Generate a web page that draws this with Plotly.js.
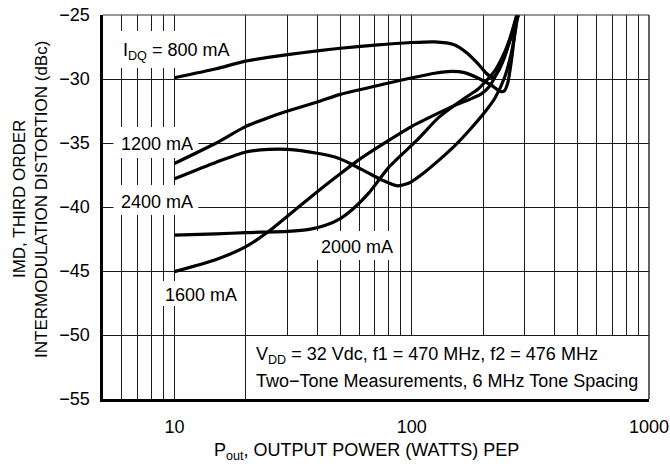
<!DOCTYPE html>
<html>
<head>
<meta charset="utf-8">
<script src="https://cdn.plot.ly/plotly-3.0.1.min.js"></script>
<style>html,body{margin:0;padding:0;background:#fff;}#chart{width:670px;height:466px;}</style>
</head>
<body>
<div id="chart"></div>
<script>
// ---- data ----
const pout800  = [10, 15, 20, 30, 40, 50, 70, 100, 125, 150, 172, 190, 205, 218, 228, 245, 262, 277];
const imd800   = [-29.9, -29.2, -28.6, -28.1, -27.8, -27.6, -27.35, -27.15, -27.1, -27.3, -28.0, -28.8, -29.5, -29.9, -29.6, -28.4, -26.6, -25];

const pout1200 = [10, 15, 20, 25, 30, 40, 50, 65, 90, 125, 147, 167, 189, 217, 235, 245, 254, 263, 271, 278];
const imd1200  = [-36.6, -35.0, -33.7, -33.0, -32.5, -31.8, -31.2, -30.7, -30.1, -29.55, -29.4, -29.5, -29.9, -30.5, -30.95, -30.95, -30.3, -28.6, -26.6, -25];

const pout2400 = [10, 15, 20, 25, 30, 40, 47.5, 55, 65, 75, 87, 98, 113, 131, 152, 175, 203, 224, 246, 265, 280];
const imd2400  = [-37.8, -36.5, -35.7, -35.5, -35.5, -35.8, -36.1, -36.6, -37.3, -37.9, -38.35, -38.1, -37.3, -36.3, -35.2, -34.0, -32.6, -31.5, -29.9, -27.7, -25];

const pout2000 = [10, 15, 20, 30, 37, 43, 50, 57, 66, 80, 105, 130, 164, 190, 207, 225, 245, 262, 279];
const imd2000  = [-42.2, -42.1, -42.0, -41.9, -41.75, -41.45, -40.9, -40.1, -38.9, -36.9, -34.8, -33.0, -31.6, -30.8, -30.1, -29.3, -28.0, -26.6, -25];

const pout1600 = [10, 15, 20, 25, 30, 40, 50, 60, 80, 100, 125, 150, 175, 195, 212, 228, 245, 262, 282];
const imd1600  = [-45.05, -44.1, -43.1, -41.9, -40.7, -38.8, -37.4, -36.3, -34.8, -33.7, -32.8, -32.1, -31.6, -31.2, -30.6, -29.6, -28.3, -26.8, -25];

const yTickVals = [-55, -50, -45, -40, -35, -30, -25];
const xTickVals = [10, 100, 1000];
const xTickText = ['10', '100', '1000'];
const xMinorGrid = [5, 6, 7, 8, 9, 20, 30, 40, 50, 60, 70, 80, 90, 200, 300, 400, 500, 600, 700, 800, 900];

const curveLabels = ['I<sub>DQ</sub> = 800 mA', '1200 mA', '2400 mA', '1600 mA', '2000 mA'];
const noteLines = ['V<sub>DD</sub> = 32 Vdc, f1 = 470 MHz, f2 = 476 MHz', 'Two\u2212Tone Measurements, 6 MHz Tone Spacing'];
const xTitle = 'P<sub>out</sub>, OUTPUT POWER (WATTS) PEP';
const yTitle1 = 'IMD, THIRD ORDER';
const yTitle2 = 'INTERMODULATION DISTORTION (dBc)';

// ---- chart ----
const FONT = "'Liberation Sans', Arial, sans-serif";
const FS = 18;
const line = {color: '#000', width: 3.2, shape: 'spline', smoothing: 0.6};
const mk = (x, y) => ({x: x, y: y, type: 'scatter', mode: 'lines', line: line, hoverinfo: 'skip'});
const traces = [mk(pout800, imd800), mk(pout1200, imd1200), mk(pout2400, imd2400), mk(pout2000, imd2000), mk(pout1600, imd1600)];

const gridC = '#1a1a1a';
const fnt = (s) => ({family: FONT, size: s || FS, color: '#000'});
const lab = (text, x, y) => ({text: text, xref: 'paper', yref: 'paper', x: x, y: y, xanchor: 'center', yanchor: 'middle', showarrow: false, font: fnt()});

const annotations = [
  lab(curveLabels[0], 0.1346, 0.905),
  lab(curveLabels[1], 0.0998, 0.663),
  lab(curveLabels[2], 0.0998, 0.514),
  lab(curveLabels[3], 0.1804, 0.270),
  lab(curveLabels[4], 0.4652, 0.395),
  {text: noteLines[0], xref: 'paper', yref: 'paper', x: 0.2766, y: 0.112, xanchor: 'left', yanchor: 'middle', showarrow: false, font: fnt()},
  {text: noteLines[1], xref: 'paper', yref: 'paper', x: 0.2766, y: 0.047, xanchor: 'left', yanchor: 'middle', showarrow: false, font: fnt()},
  {text: xTitle, xref: 'paper', yref: 'paper', x: 0.4835, y: -0.138, xanchor: 'center', yanchor: 'middle', showarrow: false, font: fnt()},
  {text: yTitle1, xref: 'paper', yref: 'paper', x: -0.1538, y: 0.5208, xanchor: 'center', yanchor: 'middle', textangle: -90, showarrow: false, font: fnt(17)},
  {text: yTitle2, xref: 'paper', yref: 'paper', x: -0.1136, y: 0.5208, xanchor: 'center', yanchor: 'middle', textangle: -90, showarrow: false, font: fnt(17)}
];

// white patches behind labels (axis-referenced so they sit above the grid, below the curves)
const patch = (x0, x1, y0, y1) => ({type: 'rect', xref: 'x', yref: 'y', x0: x0, x1: x1, y0: y0, y1: y1, fillcolor: '#fff', line: {width: 0}, layer: 'between'});

const shapes = [
  patch(5.64, 18.4, -29.14, -26.25),
  patch(5.53, 12.6, -36.17, -33.75),
  patch(5.53, 12.6, -40.63, -38.28),
  patch(8.64, 19.4, -47.73, -45.78),
  patch(37.9, 86.7, -44.14, -41.88),
  patch(20.5, 1000, -55, -50.08),
  {type: 'line', xref: 'paper', yref: 'paper', x0: 0, x1: 1, y0: 1, y1: 1, line: {color: '#333', width: 1.2}},
  {type: 'line', xref: 'paper', yref: 'paper', x0: 1, x1: 1, y0: 0, y1: 1, line: {color: '#222', width: 1.4}}
];

const layout = {
  width: 670, height: 466,
  margin: {l: 103, r: 21, t: 15, b: 67, pad: 0},
  paper_bgcolor: '#fff', plot_bgcolor: '#fff',
  showlegend: false,
  font: fnt(),
  xaxis: {
    type: 'log', range: [Math.log10(5), 3],
    tickvals: xTickVals, ticktext: xTickText,
    showgrid: true, gridcolor: gridC, gridwidth: 1,
    minor: {tickvals: xMinorGrid, showgrid: true, gridcolor: gridC, gridwidth: 1, ticks: ''},
    showline: true, linecolor: '#000', linewidth: 2.6,
    ticks: '', ticklabelstandoff: 10, ticklabeloverflow: 'allow',
    zeroline: false, fixedrange: true,
    tickfont: fnt()
  },
  yaxis: {
    range: [-55, -25],
    tickvals: yTickVals,
    showgrid: true, gridcolor: gridC, gridwidth: 1,
    showline: true, linecolor: '#000', linewidth: 2.6,
    ticks: '', ticklabelstandoff: 7,
    zeroline: false, fixedrange: true,
    tickfont: fnt()
  },
  annotations: annotations,
  shapes: shapes
};

Plotly.newPlot('chart', traces, layout, {displayModeBar: false, staticPlot: true});
</script>
</body>
</html>
